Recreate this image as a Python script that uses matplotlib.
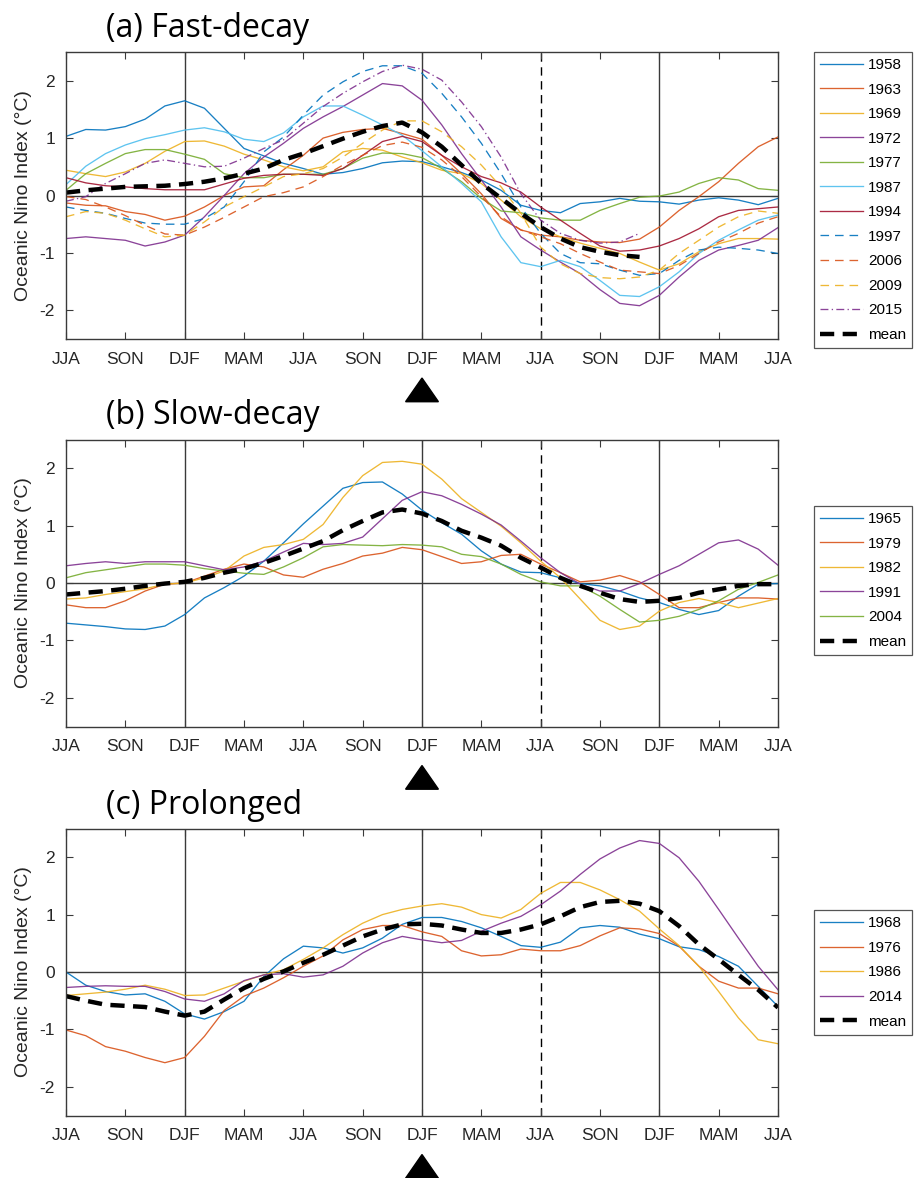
import numpy as np
import matplotlib
matplotlib.use("Agg")
import matplotlib.pyplot as plt
from matplotlib.patches import Polygon
import matplotlib.transforms as mtransforms

plt.rcParams['font.family'] = ['Liberation Sans', 'DejaVu Sans']
plt.rcParams['axes.unicode_minus'] = False

# ---------------- data ----------------
tick_labels = ['JJA', 'SON', 'DJF', 'MAM', 'JJA', 'SON', 'DJF', 'MAM',
               'JJA', 'SON', 'DJF', 'MAM', 'JJA']
solid_vlines = [6, 18, 30]
dashed_vline = 24
peak_month = 18

# (a) Fast-decay
y1958 = [1.03, 1.15, 1.14, 1.2, 1.33, 1.56, 1.65, 1.52, 1.17, 0.82, 0.69, 0.56, 0.47, 0.37, 0.4, 0.47, 0.57, 0.6, 0.59,
         0.5, 0.4, 0.27, 0.09, -0.17, -0.26, -0.3, -0.14, -0.11, -0.05, -0.1, -0.11, -0.15, -0.08, -0.04, -0.08, -0.16, -0.05]
y1963 = [-0.13, -0.17, -0.18, -0.28, -0.33, -0.43, -0.36, -0.2, 0.0, 0.15, 0.17, 0.45, 0.7, 1.0, 1.1, 1.15, 1.17, 1.08, 0.98,
         0.7, 0.38, 0.03, -0.4, -0.6, -0.69, -0.72, -0.78, -0.81, -0.82, -0.76, -0.55, -0.26, -0.02, 0.24, 0.56, 0.85, 1.02]
y1969 = [0.44, 0.38, 0.33, 0.41, 0.56, 0.77, 0.94, 0.95, 0.86, 0.72, 0.62, 0.5, 0.43, 0.5, 0.76, 0.82, 0.79, 0.67, 0.57,
         0.44, 0.38, 0.21, -0.08, -0.37, -0.58, -0.72, -0.83, -0.92, -1.01, -1.16, -1.3, -1.19, -0.98, -0.84, -0.75, -0.75, -0.76]
y1972 = [-0.75, -0.72, -0.75, -0.78, -0.88, -0.81, -0.69, -0.37, 0.0, 0.38, 0.67, 0.91, 1.17, 1.37, 1.55, 1.75, 1.95, 1.91, 1.66,
         1.23, 0.73, 0.27, -0.2, -0.72, -0.95, -1.16, -1.36, -1.64, -1.88, -1.92, -1.74, -1.42, -1.13, -0.95, -0.87, -0.78, -0.56]
y1977 = [0.09, 0.38, 0.56, 0.73, 0.8, 0.8, 0.72, 0.63, 0.38, 0.31, 0.31, 0.37, 0.37, 0.37, 0.47, 0.65, 0.74, 0.73, 0.66,
         0.47, 0.24, -0.05, -0.27, -0.3, -0.39, -0.43, -0.43, -0.26, -0.14, -0.03, -0.01, 0.06, 0.21, 0.31, 0.27, 0.12, 0.09]
y1987 = [0.19, 0.51, 0.73, 0.88, 0.99, 1.06, 1.14, 1.18, 1.11, 0.98, 0.94, 1.09, 1.37, 1.56, 1.56, 1.4, 1.23, 1.05, 0.78,
         0.5, 0.21, -0.11, -0.72, -1.17, -1.24, -1.13, -1.24, -1.48, -1.74, -1.76, -1.59, -1.33, -1.01, -0.78, -0.6, -0.43, -0.34]
y1994 = [0.31, 0.22, 0.17, 0.15, 0.12, 0.1, 0.1, 0.1, 0.2, 0.3, 0.35, 0.37, 0.37, 0.35, 0.47, 0.7, 0.94, 1.03, 0.94,
         0.7, 0.5, 0.33, 0.22, 0.06, -0.2, -0.43, -0.66, -0.88, -0.97, -0.95, -0.88, -0.75, -0.58, -0.37, -0.26, -0.23, -0.2]
y1997 = [-0.2, -0.26, -0.31, -0.4, -0.48, -0.5, -0.5, -0.4, -0.2, 0.24, 0.76, 1.02, 1.4, 1.75, 1.98, 2.16, 2.26, 2.26, 2.13,
         1.78, 1.37, 0.91, 0.38, -0.2, -0.66, -1.01, -1.17, -1.19, -1.3, -1.39, -1.36, -1.13, -0.95, -0.9, -0.92, -0.95, -1.01]
y2006 = [-0.02, -0.07, -0.2, -0.35, -0.52, -0.67, -0.69, -0.55, -0.38, -0.2, -0.02, 0.05, 0.15, 0.33, 0.53, 0.7, 0.87, 0.93, 0.84,
         0.62, 0.33, -0.02, -0.37, -0.6, -0.72, -0.84, -1.01, -1.16, -1.3, -1.33, -1.36, -1.22, -1.01, -0.81, -0.66, -0.48, -0.37]
y2009 = [-0.37, -0.28, -0.31, -0.43, -0.58, -0.72, -0.69, -0.46, -0.2, -0.02, 0.15, 0.33, 0.38, 0.47, 0.67, 0.91, 1.14, 1.3, 1.3,
         1.11, 0.85, 0.53, 0.15, -0.31, -0.9, -1.19, -1.36, -1.43, -1.45, -1.42, -1.3, -1.01, -0.78, -0.55, -0.37, -0.27, -0.31]
y2015 = [-0.1, -0.02, 0.21, 0.38, 0.56, 0.62, 0.56, 0.5, 0.51, 0.65, 0.82, 0.97, 1.26, 1.55, 1.78, 1.98, 2.16, 2.27, 2.2,
         2.01, 1.63, 1.2, 0.67, 0.03, -0.43, -0.66, -0.78, -0.83, -0.81, -0.66]
mean_a = [0.05, 0.09, 0.12, 0.15, 0.16, 0.17, 0.2, 0.24, 0.3, 0.38, 0.47, 0.62, 0.73, 0.86, 0.99, 1.11, 1.21, 1.27, 1.1,
          0.85, 0.53, 0.21, -0.05, -0.31, -0.55, -0.75, -0.9, -0.98, -1.04, -1.07]

# (b) Slow-decay
y1965 = [-0.7, -0.73, -0.76, -0.8, -0.81, -0.75, -0.55, -0.26, -0.08, 0.12, 0.38, 0.7, 1.03, 1.34, 1.65, 1.75, 1.76, 1.55, 1.27,
         1.05, 0.85, 0.56, 0.33, 0.19, 0.18, 0.09, -0.01, -0.05, -0.14, -0.26, -0.34, -0.46, -0.55, -0.48, -0.23, -0.02, -0.01]
y1979 = [-0.38, -0.43, -0.43, -0.31, -0.14, -0.02, 0.0, 0.12, 0.24, 0.33, 0.28, 0.14, 0.1, 0.24, 0.34, 0.47, 0.52, 0.62, 0.58,
         0.46, 0.34, 0.37, 0.48, 0.5, 0.33, 0.18, 0.02, 0.05, 0.13, 0.02, -0.2, -0.43, -0.43, -0.34, -0.26, -0.26, -0.28]
y1982 = [-0.28, -0.26, -0.2, -0.15, -0.1, -0.02, 0.0, 0.09, 0.21, 0.47, 0.62, 0.67, 0.76, 1.02, 1.49, 1.87, 2.1, 2.12, 2.07,
         1.81, 1.47, 1.23, 0.99, 0.7, 0.38, 0.09, -0.28, -0.65, -0.81, -0.75, -0.49, -0.34, -0.27, -0.34, -0.43, -0.35, -0.27]
y1991 = [0.3, 0.34, 0.37, 0.34, 0.37, 0.37, 0.37, 0.3, 0.23, 0.28, 0.38, 0.54, 0.69, 0.67, 0.69, 0.8, 1.12, 1.44, 1.59,
         1.52, 1.37, 1.2, 1.01, 0.73, 0.44, 0.18, -0.02, -0.14, -0.14, -0.01, 0.15, 0.3, 0.5, 0.7, 0.75, 0.59, 0.31]
y2004 = [0.09, 0.18, 0.23, 0.28, 0.33, 0.33, 0.31, 0.25, 0.21, 0.17, 0.15, 0.28, 0.44, 0.63, 0.67, 0.66, 0.65, 0.67, 0.66,
         0.63, 0.5, 0.46, 0.33, 0.15, 0.02, -0.05, -0.05, -0.23, -0.46, -0.68, -0.65, -0.58, -0.46, -0.31, -0.11, 0.01, 0.14]
mean_b = [-0.2, -0.17, -0.14, -0.1, -0.05, -0.01, 0.02, 0.09, 0.18, 0.25, 0.35, 0.47, 0.6, 0.73, 0.92, 1.08, 1.23, 1.28, 1.21,
          1.08, 0.91, 0.79, 0.65, 0.44, 0.27, 0.09, -0.05, -0.17, -0.28, -0.33, -0.31, -0.26, -0.17, -0.11, -0.05, -0.02, -0.02]

# (c) Prolonged
y1968 = [0.0, -0.23, -0.34, -0.4, -0.38, -0.51, -0.73, -0.82, -0.69, -0.51, -0.08, 0.23, 0.45, 0.42, 0.33, 0.42, 0.59, 0.83, 0.95,
         0.95, 0.88, 0.77, 0.62, 0.46, 0.43, 0.52, 0.77, 0.81, 0.78, 0.66, 0.58, 0.44, 0.39, 0.27, 0.1, -0.25, -0.6]
y1976 = [-1.01, -1.11, -1.3, -1.38, -1.49, -1.58, -1.49, -1.12, -0.67, -0.42, -0.28, -0.1, 0.1, 0.28, 0.56, 0.74, 0.81, 0.81, 0.7,
         0.62, 0.37, 0.28, 0.3, 0.4, 0.37, 0.37, 0.46, 0.63, 0.77, 0.75, 0.67, 0.45, 0.1, -0.16, -0.28, -0.28, -0.38]
y1986 = [-0.41, -0.38, -0.35, -0.3, -0.23, -0.3, -0.41, -0.4, -0.28, -0.16, -0.05, 0.04, 0.22, 0.42, 0.65, 0.85, 1.0, 1.09, 1.15,
         1.19, 1.13, 1.0, 0.94, 1.09, 1.37, 1.56, 1.56, 1.43, 1.26, 1.06, 0.75, 0.46, 0.1, -0.34, -0.8, -1.18, -1.25]
y2014 = [-0.27, -0.25, -0.24, -0.25, -0.25, -0.34, -0.47, -0.51, -0.38, -0.15, -0.05, -0.03, -0.09, -0.05, 0.1, 0.33, 0.51, 0.62, 0.56,
         0.51, 0.55, 0.71, 0.85, 0.97, 1.17, 1.41, 1.7, 1.97, 2.16, 2.29, 2.24, 1.99, 1.58, 1.09, 0.59, 0.1, -0.31]
mean_c = [-0.42, -0.5, -0.57, -0.59, -0.61, -0.69, -0.76, -0.69, -0.48, -0.28, -0.12, 0.01, 0.16, 0.3, 0.46, 0.62, 0.74, 0.83, 0.84,
          0.81, 0.74, 0.68, 0.68, 0.74, 0.83, 0.97, 1.13, 1.22, 1.24, 1.19, 1.06, 0.8, 0.48, 0.22, -0.05, -0.31, -0.62]

# ---------------- styles ----------------
C = ['#0072BD', '#D95319', '#EDB120', '#7E2F8E', '#77AC30', '#4DBEEE', '#A2142F']
DASH = (0, (6.5, 4.5))
DASHDOT = (0, (6, 2.5, 1, 2.5))

panel_a = [
    ('1958', y1958, C[0], '-'), ('1963', y1963, C[1], '-'), ('1969', y1969, C[2], '-'),
    ('1972', y1972, C[3], '-'), ('1977', y1977, C[4], '-'), ('1987', y1987, C[5], '-'),
    ('1994', y1994, C[6], '-'), ('1997', y1997, C[0], DASH), ('2006', y2006, C[1], DASH),
    ('2009', y2009, C[2], DASH), ('2015', y2015, C[3], DASHDOT)]
panel_b = [('1965', y1965, C[0], '-'), ('1979', y1979, C[1], '-'), ('1982', y1982, C[2], '-'),
           ('1991', y1991, C[3], '-'), ('2004', y2004, C[4], '-')]
panel_c = [('1968', y1968, C[0], '-'), ('1976', y1976, C[1], '-'), ('1986', y1986, C[2], '-'),
           ('2014', y2014, C[3], '-')]

panels = [('(a) Fast-decay', panel_a, mean_a),
          ('(b) Slow-decay', panel_b, mean_b),
          ('(c) Prolonged', panel_c, mean_c)]

W, H = 917, 1178
fig = plt.figure(figsize=(W / 100, H / 100), dpi=100)

ax_left = 66 / W
ax_w = 712 / W
ax_h = 287 / H
tops = [52, 439.5, 828.5]
legend_offsets = [148, 141, 144]

frame_col = '#3a3a3a'

for (title, series, mean), top, loff in zip(panels, tops, legend_offsets):
    ax = fig.add_axes([ax_left, 1 - (top + 287) / H, ax_w, ax_h])
    for lab, vals, col, ls in series:
        ax.plot(np.arange(len(vals)), vals, color=col, ls=ls, lw=0.95, alpha=0.9, label=lab)
    ax.plot(np.arange(len(mean)), mean, color='black', lw=3.2, dashes=(3.2, 1.9), label='mean')

    for v in solid_vlines:
        ax.axvline(v, color=frame_col, lw=1.0, zorder=0.5)
    ax.axvline(dashed_vline, color='black', lw=1.0, dashes=(6, 4), zorder=0.5)
    ax.axhline(0, color=frame_col, lw=1.0, zorder=0.5)

    ax.set_xlim(0, 36)
    ax.set_ylim(-2.5, 2.5)
    ax.set_xticks(np.arange(0, 37, 3))
    ax.set_xticklabels(tick_labels)
    ax.set_yticks([-2, -1, 0, 1, 2])
    ax.tick_params(direction='in', length=5, width=0.8, color=frame_col,
                   top=True, right=True, labelsize=12.5, colors='#262626')
    ax.tick_params(axis='x', pad=9)
    ax.tick_params(axis='y', pad=8)
    for sp in ax.spines.values():
        sp.set_color(frame_col)
        sp.set_linewidth(1.0)
    ax.set_ylabel('Oceanic Nino Index (\u00b0C)', fontsize=14, color='#262626', labelpad=5)

    fig.text(106 / W, 1 - (top - 15) / H, title, fontsize=23, family=['Open Sans', 'DejaVu Sans'],
             ha='left', va='baseline', color='black')

    # event-peak marker below the DJF tick
    trans = mtransforms.blended_transform_factory(ax.transData, ax.transAxes)
    tri = Polygon([(peak_month - 0.83, -0.2185), (peak_month + 0.83, -0.2185), (peak_month, -0.136)],
                  closed=True, facecolor='black', edgecolor='black', transform=trans, clip_on=False)
    ax.add_patch(tri)

    cy = 1 - (top + loff) / H
    leg = ax.legend(loc='center left', bbox_to_anchor=(814 / W, cy), bbox_transform=fig.transFigure,
                    borderaxespad=0, fontsize=11, handlelength=2.8, handletextpad=0.3,
                    labelspacing=0.69, borderpad=0.42, fancybox=False, framealpha=1)
    leg.get_frame().set_edgecolor('#555555')
    leg.get_frame().set_linewidth(0.9)

fig.savefig('out.png', dpi=100)
